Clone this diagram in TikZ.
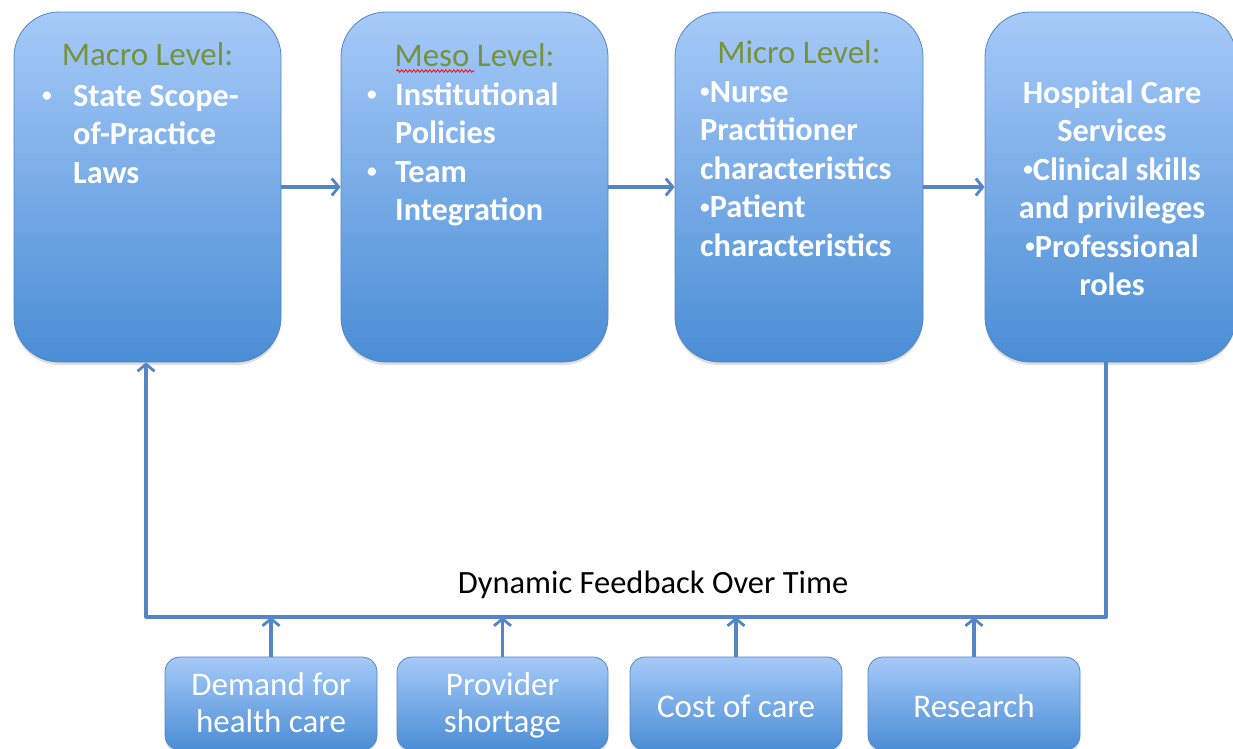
\documentclass[tikz,border=0pt]{standalone}
\usepackage{fontspec}
\setmainfont{Carlito}
\usetikzlibrary{arrows.meta,shadows,decorations.pathmorphing}
\definecolor{boxtop}{RGB}{166,202,248}
\definecolor{boxbot}{RGB}{74,141,213}
\definecolor{boxline}{RGB}{84,133,196}
\definecolor{arrowblue}{RGB}{84,133,196}
\definecolor{headgreen}{RGB}{118,146,60}
\newcommand\bigtxt{\fontsize{32.3}{38.5}\selectfont}
\newcommand\headtxt{\fontsize{33}{38.5}\selectfont}
\newcommand\smalltxt{\fontsize{33}{37}\selectfont}
\newcommand\dotmark{\raisebox{4.5pt}{\scalebox{0.6}{•}}}
\tikzset{
  levelbox/.style={rectangle, rounded corners=45pt, draw=boxline, line width=0.8pt,
    top color=boxtop, bottom color=boxbot, inner sep=0pt,
    drop shadow={shadow xshift=0pt, shadow yshift=-3pt, opacity=0.25}},
  factorbox/.style={levelbox, rounded corners=15pt},
  head/.style={inner sep=0pt, text=headgreen, font=\headtxt, anchor=base},
  bodytxt/.style={inner sep=0pt, text=white, font=\bigtxt\bfseries},
  factortxt/.style={inner sep=0pt, text=white, font=\smalltxt, anchor=base},
  arr/.style={draw=arrowblue, line width=3.2pt,
    -{Straight Barb[length=7pt,width=17pt,line width=2.8pt]}},
}
\begin{document}
\begin{tikzpicture}[x=1pt,y=-1pt]
\useasboundingbox (0,0) rectangle (1233,748);
\fill[white] (0,0) rectangle (1233,748);

% the four level boxes
\node[levelbox, minimum width=267pt, minimum height=350pt] (macro) at (147.5,187) {};
\node[levelbox, minimum width=267pt, minimum height=350pt] (meso) at (474.5,187) {};
\node[levelbox, minimum width=248pt, minimum height=350pt] (micro) at (799,187) {};
\node[levelbox, minimum width=251pt, minimum height=350pt] (hosp) at (1110.5,187) {};

% macro level text
\node[head] (macroh) at (147.5,65) {Macro Level:};
\node[bodytxt, anchor=base west] (macrot) at (42,106) {\parbox[t]{235pt}{\raggedright
  \makebox[31pt][l]{\dotmark}State Scope-\\\hspace*{31pt}of-Practice\\\hspace*{31pt}Laws}};

% meso level text
\node[head] (mesoh) at (474.5,66) {Meso Level:};
\draw[red, line width=0.8pt, decorate, decoration={snake, amplitude=1.3pt, segment length=4pt}]
  ([xshift=-78pt, yshift=-5pt]mesoh.base) -- ([xshift=0pt, yshift=-5pt]mesoh.base);
\node[bodytxt, anchor=base west] (mesot) at (367,105) {\parbox[t]{235pt}{\raggedright
  \makebox[28pt][l]{\dotmark}Institutional\\\hspace*{28pt}Policies\\
  \makebox[28pt][l]{\dotmark}Team\\\hspace*{28pt}Integration}};

% micro level text
\node[head] (microh) at (799,63) {Micro Level:};
\node[bodytxt, anchor=base west] (microt) at (700,102) {\parbox[t]{220pt}{\raggedright
  \dotmark Nurse\\Practitioner\\characteristics\\\dotmark Patient\\characteristics}};

% hospital care services text
\node[bodytxt, anchor=base] (hospt) at (1112,103) {\parbox[t]{240pt}{\centering
  Hospital Care\\Services\\\dotmark Clinical skills\\and privileges\\\dotmark Professional\\roles}};

% forward arrows between levels
\draw[arr] (macro.east) -- (meso.west);
\draw[arr] (meso.east) -- (micro.west);
\draw[arr] (micro.east) -- (hosp.west);

% feedback loop
\coordinate (fbR) at (1106,617);
\coordinate (fbL) at (146,617);
\draw[arr, line join=round] (hosp.south -| fbR) -- (fbR) -- (fbL) -- (macro.south -| fbL);
\node[inner sep=0pt, anchor=base, font=\fontsize{32.5}{38}\selectfont] (fbl) at (653,593)
  {Dynamic Feedback Over Time};

% external factor boxes
\node[factorbox, minimum width=212pt, minimum height=93pt] (demand) at (271,703.5) {};
\node[factorbox, minimum width=211pt, minimum height=93pt] (short) at (502.5,703.5) {};
\node[factorbox, minimum width=212pt, minimum height=93pt] (cost) at (736,703.5) {};
\node[factorbox, minimum width=212pt, minimum height=93pt] (research) at (974,703.5) {};

\node[factortxt] (demandt) at (271,695) {\parbox[t]{200pt}{\centering Demand for\\health care}};
\node[factortxt] (shortt) at (502.5,695) {\parbox[t]{200pt}{\centering Provider\\shortage}};
\node[factortxt] (costt) at (736,717) {Cost of care};
\node[factortxt] (researcht) at (974,717) {Research};

\draw[arr] (demand.north) -- (demand.north |- fbL);
\draw[arr] (short.north) -- (short.north |- fbL);
\draw[arr] (cost.north) -- (cost.north |- fbL);
\draw[arr] (research.north) -- (research.north |- fbL);
\end{tikzpicture}
\end{document}
